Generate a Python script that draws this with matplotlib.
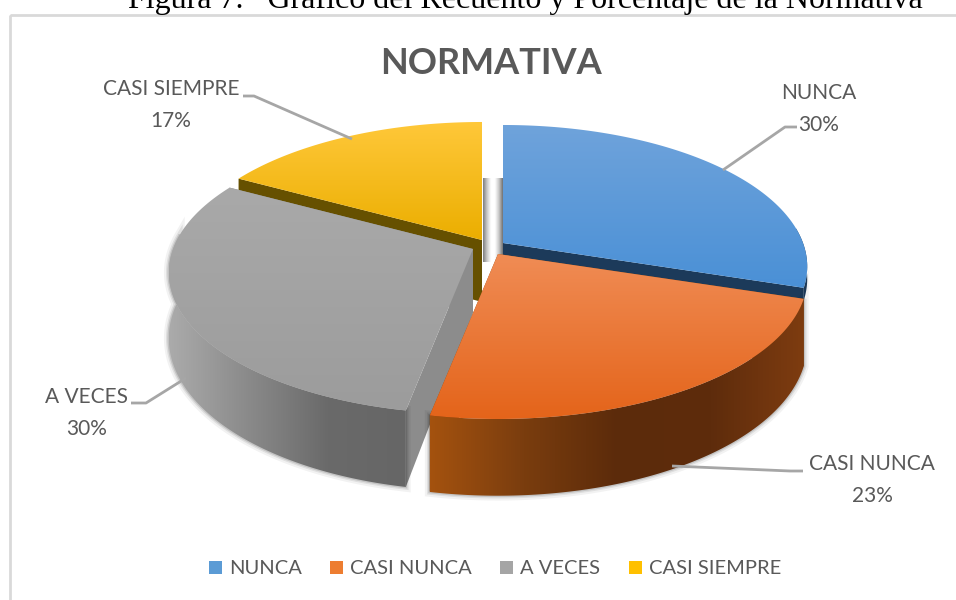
import numpy as np
import matplotlib
matplotlib.use('Agg')
import matplotlib.pyplot as plt
from matplotlib.colors import LinearSegmentedColormap
from matplotlib.patches import Polygon, Patch, Rectangle

plt.rcParams['font.family'] = ['Lato', 'DejaVu Sans']

# Data
categories = ['NUNCA', 'CASI NUNCA', 'A VECES', 'CASI SIEMPRE']
values = [30, 23, 30, 17]
percent_labels = ['30%', '23%', '30%', '17%']
legend_colors = ['#5B9BD5', '#ED7D31', '#A5A5A5', '#FFC000']

# Look of the tilted pie
apexes = [(503, 243), (498, 254), (473, 249), (482, 240)]
widths = [300, 305, 300, 300]
depths = [12, 64, 64, 62]
ry = 137.6
persp = 0.166
text_color = '#595959'


# Tilted circle, angle in degrees clockwise from 12 o'clock
def project(angle, apex, rx, drop=0.0):
    a = np.radians(angle)
    u, v = np.sin(a), -np.cos(a)
    w = 1 / (1 - persp * v)
    return apex[0] + rx * u * w, apex[1] + ry * v * w + drop * w


def gradient_fill(ax, pts, colors, horizontal=False, zorder=1):
    pts = np.array(pts)
    patch = Polygon(pts, closed=True, facecolor='none', edgecolor='none', zorder=zorder)
    ax.add_patch(patch)
    cmap = LinearSegmentedColormap.from_list('g', colors)
    grad = np.linspace(0, 1, 256)
    grad = grad.reshape(1, -1) if horizontal else grad.reshape(-1, 1)
    x0, x1 = pts[:, 0].min(), pts[:, 0].max()
    y0, y1 = pts[:, 1].min(), pts[:, 1].max()
    im = ax.imshow(grad, extent=[x0, x1, y1, y0], cmap=cmap, aspect='auto',
                   interpolation='bilinear', zorder=zorder)
    im.set_clip_path(patch)


fig = plt.figure(figsize=(9.56, 6), dpi=100)
ax = fig.add_axes([0, 0, 1, 1])

# Where each slice starts and stops
edges = np.concatenate([[0], np.cumsum(values)]) / sum(values) * 360

top_colors = [['#6FA3DB', '#4A90D6'], ['#F08C55', '#E4641A'],
              ['#A9A9A9', '#9C9C9C'], ['#FFC83A', '#EBAE00']]
outer_colors = [['#1E3C5C', '#1E3C5C'],
                ['#A4520F', '#7A3D0E', '#5C2B0B', '#5E2C0C', '#7E3C10'],
                ['#ABABAB', '#8A8A8A', '#6A6A6A', '#666666'],
                ['#6B5300', '#6B5300']]
cut_colors = ['#1C3A5A', '#8A4A10', '#8C8C8C', '#665000']

# Shadow in the gap at the back
gradient_fill(ax, [(483, 178), (503, 178), (503, 262), (483, 262)],
              ['#7D7D7D', '#C8C8C8', '#FFFFFF', '#FFFFFF', '#C8C8C8', '#6F6F6F'],
              horizontal=True, zorder=1)

# Back to front: blue, yellow, gray, orange
for n, i in enumerate([0, 3, 2, 1]):
    z = 2 + n * 4
    start, stop = edges[i], edges[i + 1]
    apex, rx, depth = apexes[i], widths[i], depths[i]
    angles = np.linspace(start, stop, 120)
    rim = [project(a, apex, rx) for a in angles]

    # Flat faces at both cut edges
    for edge in (start, stop):
        corner = project(edge, apex, rx)
        face = [apex, corner, project(edge, apex, rx, depth), (apex[0], apex[1] + depth)]
        ax.add_patch(Polygon(face, closed=True, facecolor=cut_colors[i], edgecolor='none', zorder=z))

    # Outer wall, only the part that looks to the front
    front = [a for a in angles if -np.cos(np.radians(a)) > -0.12]
    if front:
        wall = [project(a, apex, rx) for a in front] + [project(a, apex, rx, depth) for a in front[::-1]]
        # soft shadow round the wall
        if i in (1, 2):
            for lw, alpha in zip([7, 4, 2], [0.05, 0.08, 0.12]):
                ax.add_patch(Polygon(wall, closed=True, facecolor='none', edgecolor='black',
                                     lw=lw, alpha=alpha, zorder=z))
        gradient_fill(ax, wall, outer_colors[i], horizontal=True, zorder=z + 1)

    # Top
    gradient_fill(ax, [apex] + rim, top_colors[i], zorder=z + 2)

# Leader lines
leaders = [[(723, 170), (785, 127), (797, 127)],
           [(672, 466), (790, 471), (803, 471)],
           [(186, 378), (146, 403), (131, 403)],
           [(352, 139), (254, 96), (243, 96)]]
for pts in leaders:
    pts = np.array(pts)
    ax.plot(pts[:, 0], pts[:, 1], color='#A6A6A6', lw=2, zorder=20, solid_capstyle='butt')

# Data labels
label_pos = [(819, 109), (872, 480), (87, 413), (171, 105)]
for cat, pct, (x, y) in zip(categories, percent_labels, label_pos):
    ax.text(x, y, cat + '\n' + pct, ha='center', va='center', fontsize=15,
            color=text_color, linespacing=1.72, zorder=21)

# Caption cut by the top of the page, frame and title
ax.text(525, 8, 'Figura 7.   Gráfico del Recuento y Porcentaje de la Normativa', ha='center',
        va='baseline', fontsize=23, family='Liberation Serif', color='black', zorder=21)
ax.add_patch(Rectangle((10, 15), 960, 600, facecolor='none', edgecolor='#D9D9D9', lw=2, zorder=0.5))
ax.text(491, 64, 'NORMATIVA', ha='center', va='center', fontsize=26, fontweight='bold',
        color=text_color, zorder=21)

# Legend
handles = [Patch(facecolor=c, edgecolor='none', label=k) for k, c in zip(categories, legend_colors)]
ax.legend(handles=handles, loc='center', bbox_to_anchor=(495 / 956, 1 - 569 / 600), ncol=4, frameon=False,
          fontsize=14.5, labelcolor=text_color, handlelength=0.65, handleheight=0.65,
          handletextpad=0.35, columnspacing=1.4)

ax.set_xlim(0, 956)
ax.set_ylim(600, 0)
ax.axis('off')
fig.savefig('out.png', dpi=100)
